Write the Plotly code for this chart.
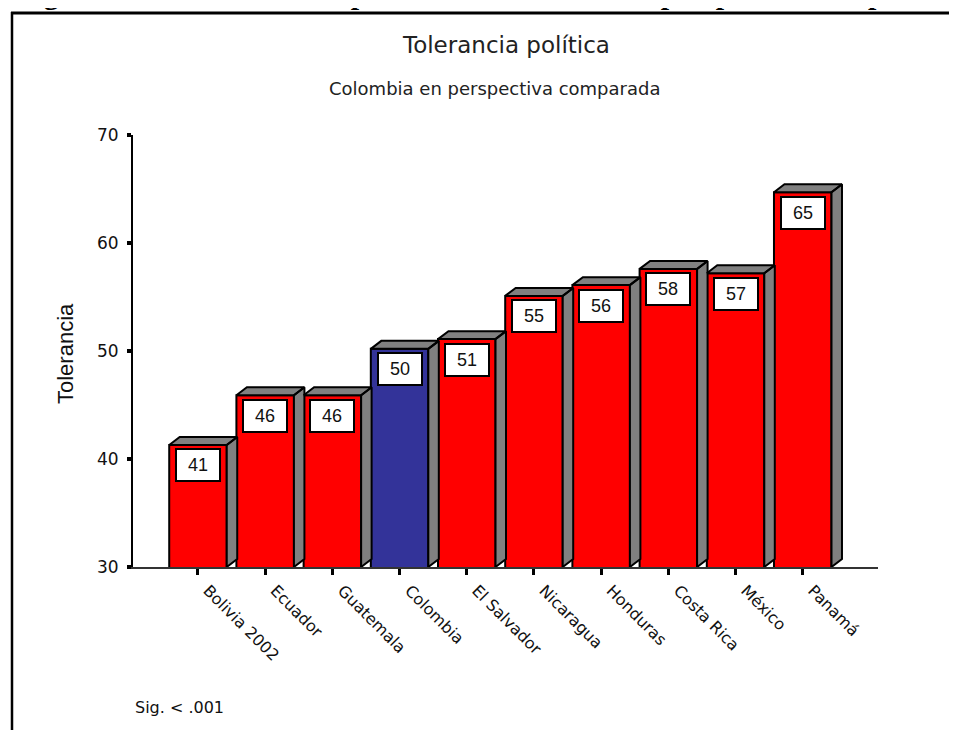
import plotly.graph_objects as go

# datos
paises = ["Bolivia 2002", "Ecuador", "Guatemala", "Colombia", "El Salvador",
          "Nicaragua", "Honduras", "Costa Rica", "México", "Panamá"]
tolerancia = [41.3, 45.9, 45.9, 50.2, 51.1, 55.1, 56.1, 57.6, 57.2, 64.7]
destacado = "Colombia"
y_ticks = [30, 40, 50, 60, 70]

ROJO, AZUL, GRIS = "#ff0000", "#333399", "#808080"

# geometria (pixeles de la pagina; el body del html tiene 8px de margen)
OFF = 8
W, H = 957 - OFF, 730 - OFF
L, T = 133 - OFF, 135 - OFF
pw, ph = 745, 432
R, B = W - L - pw, H - T - ph


def px(x):
    return (x - OFF - L) / pw


def py(y):
    return (T + ph - (y - OFF)) / ph


idx = list(range(len(paises)))
colores = [AZUL if p == destacado else ROJO for p in paises]
ancho = 0.856
w2 = ancho / 2
dx, dy = 0.156, 0.74   # profundidad del efecto 3D, en unidades de datos
base = y_ticks[0]

fig = go.Figure()
fig.add_trace(go.Bar(x=idx, y=tolerancia, width=ancho, marker_color=colores,
                     marker_line=dict(color="black", width=2), hoverinfo="skip"))

# caras laterales y superiores
sx, sy = [], []
for i, v in zip(idx, tolerancia):
    # lateral
    sx += [i + w2, i + w2 + dx, i + w2 + dx, i + w2, i + w2, None]
    sy += [base, base + dy, v + dy, v, base, None]
    # tapa
    sx += [i - w2, i - w2 + dx, i + w2 + dx, i + w2, i - w2, None]
    sy += [v, v + dy, v + dy, v, v, None]
fig.add_trace(go.Scatter(x=sx, y=sy, mode="lines", fill="toself", fillcolor=GRIS,
                         line=dict(color="black", width=2), hoverinfo="skip"))

anots = []
for i, v in zip(idx, tolerancia):
    anots.append(dict(x=i, y=v - 1.9, text=str(round(v)), showarrow=False,
                      xanchor="center", yanchor="middle",
                      bgcolor="white", bordercolor="black", borderwidth=2, borderpad=2,
                      width=38, height=26, font=dict(family="Arial", size=18, color="#111")))

comun = dict(xref="paper", yref="paper", showarrow=False, xanchor="center", yanchor="middle")
anots += [
    dict(comun, x=px(506), y=py(45), text="Tolerancia política",
         font=dict(family="DejaVu Sans", size=23, color="#222")),
    dict(comun, x=px(494), y=py(88), text="Colombia en perspectiva comparada",
         font=dict(family="DejaVu Sans", size=18, color="#222")),
    dict(comun, x=px(65), y=py(354), text="Tolerancia", textangle=-90,
         font=dict(family="Arial", size=22, color="#111")),
    dict(comun, x=px(133), y=py(707), text="Sig. < .001", xanchor="left",
         font=dict(family="DejaVu Sans", size=16, color="#111")),
    # encabezado del documento, cortado en el borde superior
    dict(comun, x=px(15), y=py(12.5), xanchor="left", yanchor="bottom",
         text="<b>Figura VII.12. Tolerancia política en Colombia en perspectiva comparada</b>",
         font=dict(family="Liberation Serif", size=30, color="black")),
]

# marco
marco = [
    dict(type="line", xref="paper", yref="paper", x0=px(12), x1=px(12), y0=py(12), y1=py(745),
         line=dict(color="black", width=2.5)),
    dict(type="line", xref="paper", yref="paper", x0=px(11), x1=px(975), y0=py(13), y1=py(13),
         line=dict(color="black", width=3)),
]

fig.update_layout(
    width=W, height=H, margin=dict(l=L, r=R, t=T, b=B),
    paper_bgcolor="white", plot_bgcolor="white", showlegend=False,
    annotations=anots, shapes=marco,
    xaxis=dict(range=[-0.967, 10.12], tickvals=idx, ticktext=paises, tickangle=45,
               ticks="outside", ticklen=6, tickwidth=3, tickcolor="black", ticklabelshift=10,
               showline=True, linecolor="#333", linewidth=2, showgrid=False, zeroline=False,
               tickfont=dict(family="DejaVu Sans", size=16, color="#111")),
    yaxis=dict(range=[30, 70], tickvals=y_ticks, ticks="outside", ticklen=4, tickwidth=4,
               tickcolor="black", showline=True, linecolor="black", linewidth=2,
               showgrid=False, zeroline=False, ticklabelstandoff=5,
               tickfont=dict(family="DejaVu Sans", size=17, color="#111")),
)

fig.write_html("out.html")
